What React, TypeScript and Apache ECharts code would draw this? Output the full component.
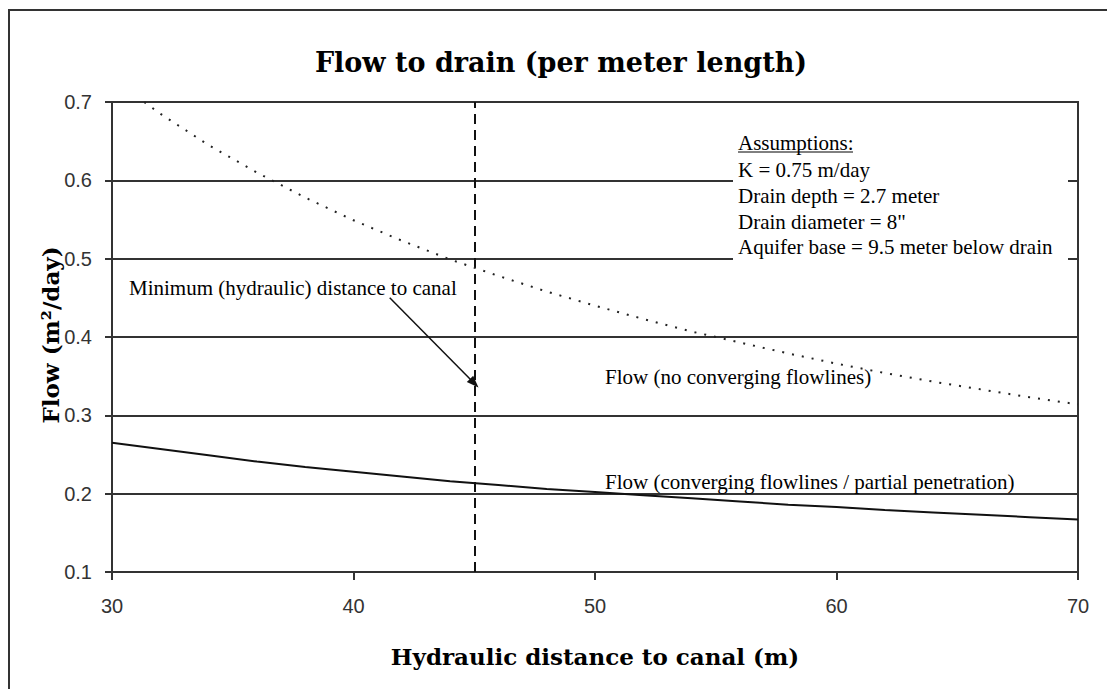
import React, { useEffect, useRef } from "react";
import * as echarts from "echarts";

// Hydraulic distance to canal (m)
const distances = [30, 32, 34, 36, 38, 40, 42, 44, 46, 48, 50, 52, 54, 56, 58, 60, 62, 64, 66, 68, 70];
// Flow (no converging flowlines), m2/day
const flowNoConverging = [0.73, 0.685, 0.645, 0.61, 0.578, 0.549, 0.523, 0.499, 0.478, 0.458, 0.44, 0.423, 0.407, 0.393, 0.379, 0.366, 0.354, 0.343, 0.333, 0.323, 0.314];
// Flow (converging flowlines / partial penetration), m2/day
const flowConverging = [0.265, 0.257, 0.249, 0.241, 0.234, 0.228, 0.222, 0.216, 0.211, 0.206, 0.202, 0.198, 0.194, 0.19, 0.186, 0.183, 0.179, 0.176, 0.173, 0.17, 0.167];

const minimumDistance = 45;
const arrowStart = [41.5, 0.45];
const arrowEnd = [45, 0.341];

const yTicks = { min: 0.1, max: 0.7, interval: 0.1 };
const xTicks = { min: 30, max: 70, interval: 10 };

const titleText = "Flow to drain (per meter length)";
const xTitle = "Hydraulic distance to canal (m)";
const yTitle = "Flow (m²/day)";
const assumptions = [
  "K = 0.75 m/day",
  "Drain depth = 2.7 meter",
  "Drain diameter = 8\"",
  "Aquifer base = 9.5 meter below drain",
];

const SERIF = "'Liberation Serif', 'Times New Roman', serif";
const BOLD_SERIF = "'DejaVu Serif', 'Liberation Serif', serif";
const SANS = "'Liberation Sans', Arial, sans-serif";

export default function App() {
  const ref = useRef<HTMLDivElement>(null);

  useEffect(() => {
    if (!ref.current) return;
    const chart = echarts.init(ref.current, undefined, { renderer: "svg" });

    const txt = (text: string, x: number, y: number, extra: any = {}) => ({
      type: "text",
      x,
      y,
      silent: true,
      style: {
        text,
        fontFamily: SERIF,
        fontSize: 21,
        fill: "#000",
        align: "left",
        verticalAlign: "middle",
        ...extra,
      },
    });

    const graphic: any[] = [
      {
        type: "rect",
        shape: { x: 9, y: 10, width: 1200, height: 800 },
        style: { fill: "none", stroke: "#333", lineWidth: 2 },
        silent: true,
        z: 0,
      },
      {
        type: "rect",
        shape: { x: 733, y: 130, width: 335, height: 132 },
        style: { fill: "#fff" },
        silent: true,
        z: 50,
      },
      { ...txt(titleText, 561, 62, { fontFamily: BOLD_SERIF, fontWeight: "bold", fontSize: 27, align: "center" }), z: 60 },
      { ...txt(xTitle, 595, 656, { fontFamily: BOLD_SERIF, fontWeight: "bold", fontSize: 23, align: "center" }), z: 60 },
      {
        ...txt(yTitle, 50, 335, { fontFamily: BOLD_SERIF, fontWeight: "bold", fontSize: 23, align: "center" }),
        rotation: Math.PI / 2,
        z: 60,
      },
      { ...txt("Minimum (hydraulic) distance to canal", 129, 288), z: 60 },
      { ...txt("Flow (no converging flowlines)", 605, 377), z: 60 },
      { ...txt("Flow (converging flowlines / partial penetration)", 605, 482), z: 60 },
      { ...txt("Assumptions:", 738, 143), z: 60 },
      {
        type: "line",
        shape: { x1: 738, y1: 152, x2: 853, y2: 152 },
        style: { stroke: "#000", lineWidth: 1 },
        silent: true,
        z: 60,
      },
      ...assumptions.map((a, i) => ({ ...txt(a, 738, 170 + i * 25.8), z: 60 })),
    ];

    chart.setOption({
      animation: false,
      backgroundColor: "#fff",
      grid: {
        left: 112,
        top: 102,
        width: 966,
        height: 470,
        show: true,
        borderColor: "#333",
        borderWidth: 2,
        containLabel: false,
      },
      xAxis: {
        type: "value",
        min: xTicks.min,
        max: xTicks.max,
        interval: xTicks.interval,
        axisLine: { show: true, lineStyle: { color: "#333", width: 2 } },
        axisTick: { show: true, inside: false, length: 8, lineStyle: { color: "#333", width: 2 } },
        axisLabel: { color: "#333", fontFamily: SANS, fontSize: 20, margin: 24 },
        splitLine: { show: false },
      },
      yAxis: {
        type: "value",
        min: yTicks.min,
        max: yTicks.max,
        interval: yTicks.interval,
        axisLine: { show: true, lineStyle: { color: "#333", width: 2 } },
        axisTick: { show: true, inside: false, length: 7, lineStyle: { color: "#333", width: 2 } },
        axisLabel: {
          color: "#333",
          fontFamily: SANS,
          fontSize: 20,
          margin: 20,
          formatter: (v: number) => v.toFixed(1),
        },
        splitLine: { show: true, lineStyle: { color: "#333", width: 2 } },
      },
      series: [
        {
          type: "line",
          name: "Flow (no converging flowlines)",
          data: distances.map((d, i) => [d, flowNoConverging[i]]),
          showSymbol: false,
          smooth: false,
          lineStyle: { color: "#222", width: 2, type: [2, 8] },
          z: 5,
        },
        {
          type: "line",
          name: "Flow (converging flowlines / partial penetration)",
          data: distances.map((d, i) => [d, flowConverging[i]]),
          showSymbol: false,
          smooth: false,
          lineStyle: { color: "#111", width: 2 },
          z: 5,
          markLine: {
            silent: true,
            animation: false,
            label: { show: false },
            data: [
              [
                { coord: arrowStart, symbol: "none" },
                { coord: arrowEnd, symbol: "triangle", symbolSize: [9, 12] },
              ],
            ],
            lineStyle: { color: "#111", width: 1.5, type: "solid" },
          },
        },
        {
          type: "line",
          name: "Minimum distance",
          data: [],
          markLine: {
            silent: true,
            animation: false,
            symbol: "none",
            label: { show: false },
            lineStyle: { color: "#111", width: 2, type: [10, 6] },
            data: [{ xAxis: minimumDistance }],
          },
        },
      ],
      graphic,
    });

    return () => chart.dispose();
  }, []);

  return (
    <div
      ref={ref}
      style={{ position: "fixed", left: 0, top: 0, width: 1107, height: 689, background: "#fff" }}
    />
  );
}
